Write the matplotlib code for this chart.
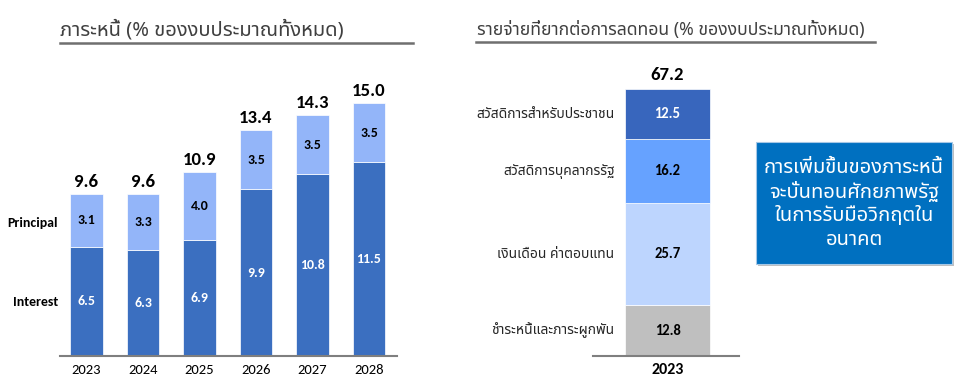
import matplotlib
matplotlib.use('Agg')
import matplotlib.pyplot as plt
from matplotlib.lines import Line2D
from matplotlib.patches import Rectangle

# debt burden (% of total budget)
years = ['2023', '2024', '2025', '2026', '2027', '2028']
interest = [6.5, 6.3, 6.9, 9.9, 10.8, 11.5]
principal = [3.1, 3.3, 4.0, 3.5, 3.5, 3.5]
totals = [9.6, 9.6, 10.9, 13.4, 14.3, 15.0]

# hard-to-cut spending 2023 (% of total budget), bottom to top
rigid_labels = ['ชำระหนี้และภาระผูกพัน', 'เงินเดือน ค่าตอบแทน',
                'สวัสดิการบุคลากรรัฐ', 'สวัสดิการสำหรับประชาชน']
rigid_values = [12.8, 25.7, 16.2, 12.5]
rigid_total = 67.2
rigid_year = '2023'

thai = ['Noto Sans Thai', 'DejaVu Sans']
num = ['Carlito', 'Liberation Sans', 'DejaVu Sans']

c_dark = '#3B6FC0'
c_light = '#93B5F9'
rigid_colors = ['#BFBFBF', '#BDD5FE', '#66A2FF', '#3866BD']

W, H = 960, 387
fig = plt.figure(figsize=(9.6, 3.87), dpi=100)


def fx(px):
    return px / W


def fy(py):
    return 1 - py / H


# ---- left chart ----
ax = fig.add_axes([fx(60), fy(356), fx(397) - fx(60), fy(60) - fy(356)])
x = range(len(years))
ax.bar(x, interest, width=0.57, color=c_dark, edgecolor='white', linewidth=0.5)
ax.bar(x, principal, bottom=interest, width=0.57, color=c_light, edgecolor='white', linewidth=0.5)
for i in x:
    ax.text(i, interest[i] / 2, f'{interest[i]:.1f}', ha='center', va='center',
            color='white', fontsize=10, fontweight='bold', family=num)
    ax.text(i, interest[i] + principal[i] / 2, f'{principal[i]:.1f}', ha='center', va='center',
            color='black', fontsize=10, fontweight='bold', family=num)
    ax.text(i, totals[i] + 0.25, f'{totals[i]:.1f}', ha='center', va='bottom',
            color='black', fontsize=13.5, fontweight='bold', family=num)
ax.set_xlim(-0.469, 5.496)
ax.set_ylim(0, 17.58)
ax.set_xticks(list(x))
ax.set_xticklabels(years, family=num, fontsize=10.5)
ax.tick_params(axis='x', length=0, pad=6)
ax.set_yticks([])
for s in ['top', 'right', 'left']:
    ax.spines[s].set_visible(False)
ax.spines['bottom'].set_color('#7F7F7F')
ax.spines['bottom'].set_linewidth(1.5)
ax.text(-0.5, 3.2, 'Interest', ha='right', va='center', fontsize=10,
        fontweight='bold', family=num)
ax.text(-0.5, 7.9, 'Principal', ha='right', va='center', fontsize=10,
        fontweight='bold', family=num)

fig.text(fx(60), fy(30), 'ภาระหนี้ (% ของงบประมาณทั้งหมด)', ha='left', va='center',
         fontsize=14.5, color='#404040', family=thai)
fig.add_artist(Line2D([fx(60), fx(413)], [fy(43), fy(43)], color='#6F6F6F', lw=1.8))

# ---- right chart ----
ax2 = fig.add_axes([fx(593), fy(356), fx(739) - fx(593), fy(60) - fy(356)])
bottom = 0
for lab, val, col in zip(rigid_labels, rigid_values, rigid_colors):
    ax2.bar(0, val, bottom=bottom, width=0.57, color=col, edgecolor='white', linewidth=0.5)
    tcol = 'white' if col == rigid_colors[-1] else 'black'
    ax2.text(0, bottom + val / 2, f'{val:.1f}', ha='center', va='center', color=tcol,
             fontsize=10.5, fontweight='bold', family=num)
    ax2.text(-0.355, bottom + val / 2, lab, ha='right', va='center', fontsize=10,
             color='#262626', family=thai)
    bottom += val
ax2.text(0, rigid_total + 1.5, f'{rigid_total:.1f}', ha='center', va='bottom',
         fontsize=13.5, fontweight='bold', family=num)
ax2.set_xlim(-0.5, 0.48)
ax2.set_ylim(0, 74.6)
ax2.set_xticks([0])
ax2.set_xticklabels([rigid_year], fontsize=11.5, fontweight='bold', family=num)
ax2.tick_params(axis='x', length=0, pad=5)
ax2.set_yticks([])
for s in ['top', 'right', 'left']:
    ax2.spines[s].set_visible(False)
ax2.spines['bottom'].set_color('#7F7F7F')
ax2.spines['bottom'].set_linewidth(1.5)

fig.text(fx(477), fy(30), 'รายจ่ายที่ยากต่อการลดทอน (% ของงบประมาณทั้งหมด)', ha='left',
         va='center', fontsize=12.7, color='#404040', family=thai)
fig.add_artist(Line2D([fx(476), fx(875)], [fy(42), fy(42)], color='#6F6F6F', lw=1.8))

# ---- callout box ----
fig.add_artist(Rectangle((fx(758), fy(266)), fx(954) - fx(758), fy(144) - fy(266),
                         transform=fig.transFigure, facecolor='#BFBFBF',
                         edgecolor='none'))
fig.add_artist(Rectangle((fx(756), fy(264)), fx(952) - fx(756), fy(142) - fy(264),
                         transform=fig.transFigure, facecolor='#0070C0',
                         edgecolor='#A6C8E6', linewidth=0.8))
box_lines = ['การเพิ่มขึ้นของภาระหนี้', 'จะบั่นทอนศักยภาพรัฐ', 'ในการรับมือวิกฤตใน', 'อนาคต']
for k, line in enumerate(box_lines):
    fig.text(fx(854), fy(168 + 24 * k), line, ha='center', va='center', color='white',
             fontsize=14.5, family=thai, fontweight='medium')

fig.savefig('out.png', dpi=100)
